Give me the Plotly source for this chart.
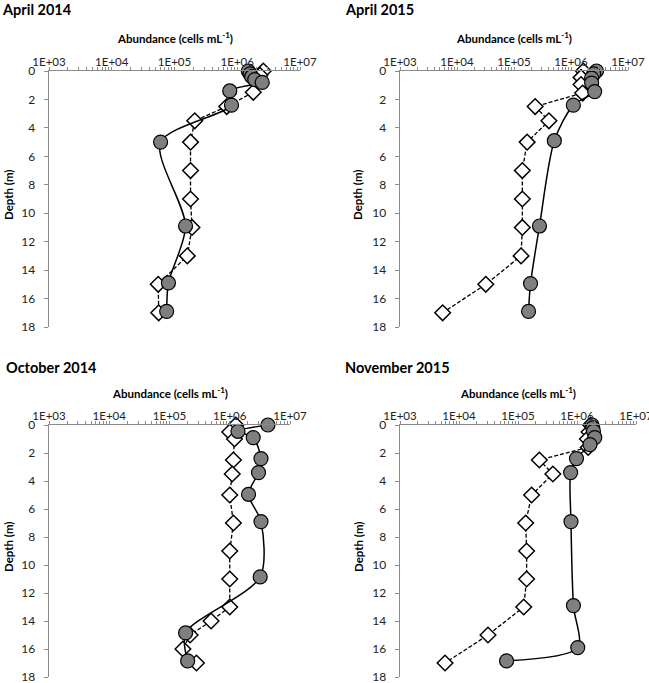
import plotly.graph_objects as go

# ---------------- data ----------------
panel_titles = ["April 2014", "April 2015", "October 2014", "November 2015"]
x_tick_vals = [1e3, 1e4, 1e5, 1e6, 1e7]
x_tick_text = ["1E+03", "1E+04", "1E+05", "1E+06", "1E+07"]
y_tick_vals = [0, 2, 4, 6, 8, 10, 12, 14, 16, 18]

apr14_circ_depth = [0, 0.2, 0.4, 0.6, 0.8, 1.4, 2.4, 5.0, 10.9, 14.9, 16.9]
apr14_circ_val = [1.5e6, 1.6e6, 1.7e6, 1.9e6, 2.5e6, 7.6e5, 8.1e5, 6.0e4, 1.5e5, 8.0e4, 7.5e4]
apr14_diam_depth = [0, 0.3, 1.5, 2.5, 3.5, 5, 7, 9, 11, 13, 15, 17]
apr14_diam_val = [2.6e6, 2.3e6, 1.8e6, 6.8e5, 2.1e5, 1.8e5, 1.8e5, 1.8e5, 1.9e5, 1.6e5, 5.5e4, 5.6e4]

apr15_circ_depth = [0, 0.2, 0.5, 0.85, 1.45, 2.4, 4.9, 10.9, 14.95, 16.9]
apr15_circ_val = [2.8e6, 2.5e6, 2.3e6, 2.3e6, 2.6e6, 1.1e6, 5.1e5, 2.8e5, 1.95e5, 1.8e5]
apr15_diam_depth = [0, 0.45, 0.95, 1.55, 2.5, 3.5, 5, 7, 9, 11, 13, 15, 17]
apr15_diam_val = [1.65e6, 1.5e6, 1.5e6, 1.6e6, 2.35e5, 4.1e5, 1.7e5, 1.4e5, 1.4e5, 1.4e5, 1.33e5, 3.2e4, 5.6e3]

oct14_circ_depth = [0, 0.45, 0.9, 2.4, 3.4, 4.95, 6.9, 10.85, 14.85, 16.85]
oct14_circ_val = [4.3e6, 1.37e6, 2.45e6, 3.3e6, 3.0e6, 2.05e6, 3.3e6, 3.2e6, 1.85e5, 2.0e5]
oct14_diam_depth = [0, 0.5, 1, 2.5, 3.5, 5, 7, 9, 11, 13, 14, 15, 16, 17]
oct14_diam_val = [1.26e6, 1.0e6, 1.2e6, 1.15e6, 1.1e6, 1.0e6, 1.15e6, 1.0e6, 1.0e6, 1.0e6, 4.9e5, 2.2e5, 1.67e5, 2.8e5]

nov15_circ_depth = [0, 0.2, 0.45, 0.9, 1.4, 2.4, 3.4, 6.9, 12.9, 15.9, 16.85]
nov15_circ_val = [1.8e6, 1.85e6, 1.9e6, 2.0e6, 1.66e6, 9.8e5, 7.8e5, 7.9e5, 8.7e5, 1.03e6, 6.4e4]
nov15_diam_depth = [0, 0.5, 1.0, 1.6, 2.5, 3.5, 5, 7, 9, 11, 13, 15, 17]
nov15_diam_val = [1.7e6, 1.6e6, 1.5e6, 1.55e6, 2.3e5, 3.9e5, 1.7e5, 1.35e5, 1.4e5, 1.4e5, 1.25e5, 3.1e4, 5.8e3]

panels = [
    (apr14_circ_depth, apr14_circ_val, apr14_diam_depth, apr14_diam_val),
    (apr15_circ_depth, apr15_circ_val, apr15_diam_depth, apr15_diam_val),
    (oct14_circ_depth, oct14_circ_val, oct14_diam_depth, oct14_diam_val),
    (nov15_circ_depth, nov15_circ_val, nov15_diam_depth, nov15_diam_val),
]

# ---------------- layout geometry (pixels) ----------------
W, H = 649, 683
# (x_left, x_right, y_top, y_bottom) of each plot area
boxes = [(49, 300, 71, 327), (400, 628, 71, 327), (49, 290, 425, 677), (400, 636, 425, 677)]
title_pos = [(0, 9), (343, 9), (4, 367), (343, 367)]
ylabel_x = [8, 357, 8, 358]

FONT = "Lato"
AX_COLOR = "#8c8c8c"
minor_vals = [m * 10 ** e for e in range(3, 7) for m in range(2, 10)]

fig = go.Figure()
layout = dict(
    width=W, height=H, margin=dict(l=0, r=0, t=0, b=0, pad=0, autoexpand=False),
    paper_bgcolor="white", plot_bgcolor="white", showlegend=False,
    font=dict(family=FONT, size=12, color="#222"),
)
annotations = []

for i, (cd, cv, dd, dv) in enumerate(panels):
    n = "" if i == 0 else str(i + 1)
    xa, ya = "x" + n, "y" + n
    xl, xr, yt, yb = boxes[i]
    layout["xaxis" + n] = dict(
        type="log", range=[3, 7], side="top", anchor=ya, automargin=False,
        domain=[xl / W, xr / W],
        tickvals=x_tick_vals, ticktext=x_tick_text,
        ticks="outside", ticklen=3, tickcolor=AX_COLOR, tickwidth=1,
        minor=dict(tickvals=minor_vals, ticks="outside", ticklen=3,
                   tickcolor=AX_COLOR, tickwidth=1),
        showline=True, linecolor=AX_COLOR, linewidth=1.5,
        showgrid=False, zeroline=False,
        tickfont=dict(family=FONT, size=11.5, color="#222"),
        ticklabelstandoff=-4, ticklabeloverflow="allow",
    )
    layout["yaxis" + n] = dict(
        range=[18, 0], anchor=xa, automargin=False,
        domain=[1 - yb / H, 1 - yt / H],
        tickvals=y_tick_vals,
        ticks="outside", ticklen=4, tickcolor=AX_COLOR, tickwidth=1,
        showline=True, linecolor=AX_COLOR, linewidth=1.5,
        showgrid=False, zeroline=False,
        tickfont=dict(family=FONT, size=12, color="#222"),
        ticklabelstandoff=6, ticklabeloverflow="allow",
    )
    # dashed diamond series
    fig.add_trace(go.Scatter(
        x=dv, y=dd, xaxis=xa, yaxis=ya, mode="lines+markers",
        line=dict(color="black", width=1.3, dash="4px,2px"),
        marker=dict(symbol="diamond", size=12, color="white",
                    line=dict(color="black", width=1.5)),
        cliponaxis=False, hoverinfo="skip",
    ))
    # solid circle series
    fig.add_trace(go.Scatter(
        x=cv, y=cd, xaxis=xa, yaxis=ya, mode="lines+markers",
        line=dict(color="black", width=1.5, shape="spline", smoothing=0.8),
        marker=dict(symbol="circle", size=14, color="#7f7f7f",
                    line=dict(color="black", width=1.2)),
        cliponaxis=False, hoverinfo="skip",
    ))
    # panel title
    tx, ty = title_pos[i]
    annotations.append(dict(
        text="<b>" + panel_titles[i] + "</b>", xref="paper", yref="paper",
        x=tx / W, y=1 - ty / H, xanchor="left", yanchor="middle",
        showarrow=False, font=dict(family=FONT, size=14.5, color="black"),
    ))
    # x-axis title
    annotations.append(dict(
        text="<b>Abundance (cells mL<sup>-1</sup>)</b>", xref="paper", yref="paper",
        x=(xl + xr) / 2 / W, y=1 - (yt - 33) / H, xanchor="center", yanchor="middle",
        showarrow=False, font=dict(family=FONT, size=11.5, color="black"),
    ))
    # y-axis title
    annotations.append(dict(
        text="<b>Depth (m)</b>", xref="paper", yref="paper",
        x=ylabel_x[i] / W, y=1 - ((yt + yb) / 2 - 4) / H,
        xanchor="center", yanchor="middle", textangle=-90,
        showarrow=False, font=dict(family=FONT, size=11.5, color="black"),
    ))

layout["annotations"] = annotations
fig.update_layout(**layout)
fig.write_html("out.html", config={"displayModeBar": False, "staticPlot": True},
               post_script="document.body.style.margin='0';")
